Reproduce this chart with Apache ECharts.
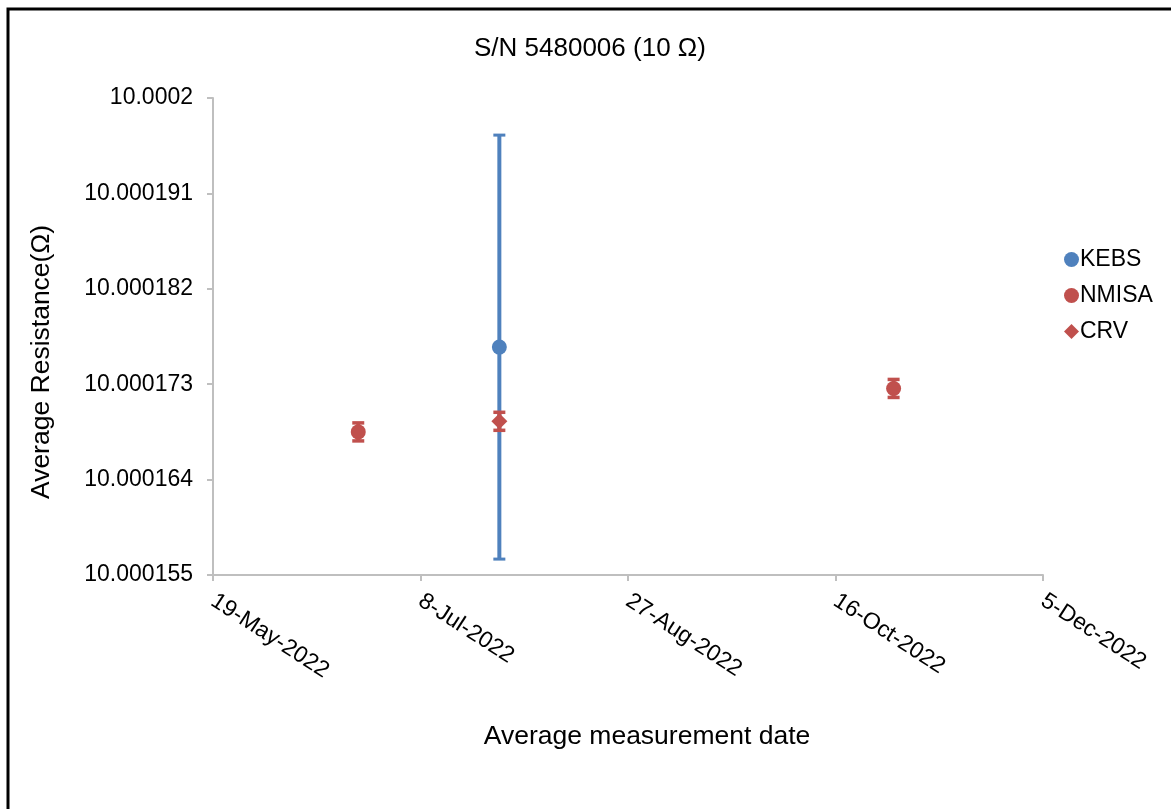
<!DOCTYPE html>
<html>
<head>
    <meta charset="utf-8"/>
    <title>S/N 5480006 (10 Ω)</title>
    <script src="https://cdn.jsdelivr.net/npm/echarts@6.0.0/dist/echarts.min.js"></script>
    <style>
        html, body { margin: 0; padding: 0; background: #fff; }
        #main { width: 1171px; height: 809px; }
    </style>
</head>
<body>
<div id="main"></div>
<script>
    // 数据
    var kebsDate = ['2022-07-27'];
    var kebsValue = [10.0001765];
    var kebsErr = [0.00002];

    var nmisaDate = ['2022-06-23', '2022-10-30'];
    var nmisaValue = [10.0001685, 10.0001726];
    var nmisaErr = [0.00000085, 0.00000085];

    var crvDate = ['2022-07-27'];
    var crvValue = [10.0001695];
    var crvErr = [0.00000085];

    // x 轴: Excel 日期序号, 19-May-2022 .. 5-Dec-2022, 每 50 天
    var xMin = 44700, xMax = 44900, xStep = 50;
    var yMin = 10.000155, yMax = 10.0002, yStep = 0.000009;

    var BLUE = '#4F81BD';
    var RED = '#C0504D';
    var FONT = "'Liberation Sans', Arial, sans-serif";
    var MONTHS = ['Jan', 'Feb', 'Mar', 'Apr', 'May', 'Jun', 'Jul', 'Aug', 'Sep', 'Oct', 'Nov', 'Dec'];

    function toSerial(s) {
        var p = s.split('-');
        var t = Date.UTC(+p[0], +p[1] - 1, +p[2]);
        return Math.round((t - Date.UTC(1899, 11, 30)) / 86400000);
    }

    function serialLabel(v) {
        var d = new Date(Date.UTC(1899, 11, 30) + Math.round(v) * 86400000);
        return d.getUTCDate() + '-' + MONTHS[d.getUTCMonth()] + '-' + d.getUTCFullYear();
    }

    function build(dates, vals, errs) {
        var out = [];
        for (var i = 0; i < dates.length; i++) {
            out.push([toSerial(dates[i]), vals[i], errs[i]]);
        }
        return out;
    }

    var kebsData = build(kebsDate, kebsValue, kebsErr);
    var nmisaData = build(nmisaDate, nmisaValue, nmisaErr);
    var crvData = build(crvDate, crvValue, crvErr);

    function errorBar(color, lw, capW, capLw) {
        return function (params, api) {
            var x = api.value(0), y = api.value(1), e = api.value(2);
            var top = api.coord([x, y + e]);
            var bot = api.coord([x, y - e]);
            var h = capW / 2;
            return {
                type: 'group',
                children: [
                    {type: 'line', shape: {x1: top[0], y1: top[1], x2: bot[0], y2: bot[1]},
                        style: {stroke: color, lineWidth: lw}},
                    {type: 'line', shape: {x1: top[0] - h, y1: top[1], x2: top[0] + h, y2: top[1]},
                        style: {stroke: color, lineWidth: capLw}},
                    {type: 'line', shape: {x1: bot[0] - h, y1: bot[1], x2: bot[0] + h, y2: bot[1]},
                        style: {stroke: color, lineWidth: capLw}}
                ]
            };
        };
    }

    var myChart = echarts.init(document.getElementById('main'));
    var option = {
        animation: false,
        backgroundColor: '#fff',
        textStyle: {fontFamily: FONT},
        title: {
            text: 'S/N 5480006 (10 Ω)',
            left: 474,
            top: 36,
            padding: 0,
            textStyle: {fontFamily: FONT, fontSize: 26, fontWeight: 'normal', color: '#000'}
        },
        legend: {
            orient: 'vertical',
            left: 1059,
            top: 243,
            itemWidth: 15,
            itemHeight: 15,
            itemGap: 13,
            textStyle: {fontFamily: FONT, fontSize: 23, color: '#000', padding: [0, 0, 0, -4]},
            data: [
                {name: 'KEBS', icon: 'circle'},
                {name: 'NMISA', icon: 'circle'},
                {name: 'CRV', icon: 'diamond'}
            ]
        },
        grid: {left: 213, top: 98, right: 128, bottom: 234},
        xAxis: {
            type: 'value',
            min: xMin,
            max: xMax,
            interval: xStep,
            splitLine: {show: false},
            axisLine: {lineStyle: {color: '#BFBFBF', width: 2}},
            axisTick: {length: 6, lineStyle: {color: '#BFBFBF', width: 2}},
            axisLabel: {
                rotate: -33,
                margin: 24,
                fontFamily: FONT,
                fontSize: 23,
                color: '#000',
                formatter: serialLabel
            }
        },
        yAxis: {
            type: 'value',
            min: yMin,
            max: yMax,
            interval: yStep,
            splitLine: {show: false},
            axisLine: {show: true, lineStyle: {color: '#BFBFBF', width: 2}},
            axisTick: {show: true, length: 6, lineStyle: {color: '#BFBFBF', width: 2}},
            axisLabel: {
                margin: 20,
                fontFamily: FONT,
                fontSize: 23,
                color: '#000',
                formatter: function (v) { return String(+v.toFixed(6)); }
            }
        },
        graphic: [
            {
                type: 'rect',
                shape: {x: 8, y: 9, width: 1300, height: 1000},
                style: {fill: 'none', stroke: '#000', lineWidth: 3},
                silent: true
            },
            {
                type: 'text',
                x: 42, y: 362,
                rotation: Math.PI / 2,
                style: {
                    text: 'Average Resistance(Ω)',
                    font: '26.5px ' + FONT,
                    fill: '#000',
                    textAlign: 'center',
                    textVerticalAlign: 'middle'
                }
            },
            {
                type: 'text',
                x: 647, y: 737,
                style: {
                    text: 'Average measurement date',
                    font: '26.5px ' + FONT,
                    fill: '#000',
                    textAlign: 'center',
                    textVerticalAlign: 'middle'
                }
            }
        ],
        series: [
            {name: 'KEBS err', type: 'custom', renderItem: errorBar(BLUE, 4, 12, 3), data: kebsData, z: 1, silent: true},
            {name: 'NMISA err', type: 'custom', renderItem: errorBar(RED, 4, 12, 3.5), data: nmisaData, z: 1, silent: true},
            {name: 'CRV err', type: 'custom', renderItem: errorBar(RED, 4, 12, 3.5), data: crvData, z: 1, silent: true},
            {name: 'KEBS', type: 'scatter', symbol: 'circle', symbolSize: 15, itemStyle: {color: BLUE, opacity: 1}, data: kebsData, z: 3},
            {name: 'NMISA', type: 'scatter', symbol: 'circle', symbolSize: 15, itemStyle: {color: RED, opacity: 1}, data: nmisaData, z: 3},
            {name: 'CRV', type: 'scatter', symbol: 'diamond', symbolSize: [16, 16], itemStyle: {color: RED, opacity: 1}, data: crvData, z: 3}
        ]
    };
    myChart.setOption(option);

    window.onresize = function () {
        myChart.resize();
    };
</script>
</body>
</html>
